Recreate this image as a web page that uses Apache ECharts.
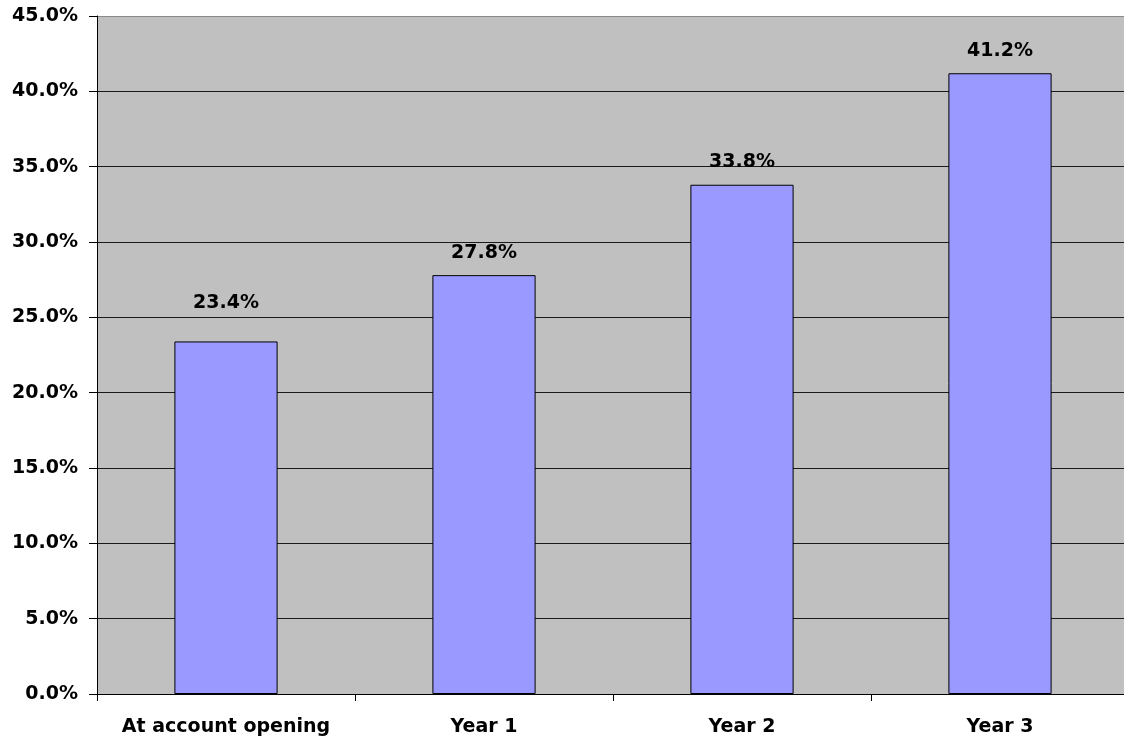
<!DOCTYPE html>
<html>
<head>
<meta charset="utf-8">
<script src="https://cdn.jsdelivr.net/npm/echarts@6/dist/echarts.min.js"></script>
<style>
  html, body { margin: 0; padding: 0; background: #ffffff; overflow: hidden; }
  /* the plot area runs a few pixels past the right edge of the page */
  #chart { width: 1129px; height: 747px; }
</style>
</head>
<body>
<div id="chart"></div>
<script>
// Share of accounts, by time since the account was opened
const categories = ['At account opening', 'Year 1', 'Year 2', 'Year 3'];
const shareValues = [23.4, 27.8, 33.8, 41.2];
const yTicks = [0, 5, 10, 15, 20, 25, 30, 35, 40, 45];

const FONT = '"DejaVu Sans", "Liberation Sans", Arial, sans-serif';

// Gridlines are dark; the top one (45%) is a lighter border line
const gridLineColors = yTicks.map((t, i) => i === yTicks.length - 1 ? '#8a8a8a' : '#1a1a1a');

// The first label sits a little higher, clear of the 25% gridline
const barData = shareValues.map((v, i) => i === 0
  ? { value: v, label: { distance: 29 } }
  : { value: v });

const chart = echarts.init(document.getElementById('chart'), null, { renderer: 'canvas' });

chart.setOption({
  animation: false,
  backgroundColor: '#ffffff',
  grid: {
    left: 97,
    right: 0,
    top: 16,
    bottom: 53,
    show: true,
    backgroundColor: '#c0c0c0',
    borderWidth: 0
  },
  xAxis: {
    type: 'category',
    data: categories,
    boundaryGap: true,
    axisLine: { show: true, lineStyle: { color: '#000000', width: 1 } },
    axisTick: { show: true, alignWithLabel: false, length: 7, lineStyle: { color: '#000000' } },
    axisLabel: {
      interval: 0,
      color: '#000000',
      fontFamily: FONT,
      fontWeight: 'bold',
      fontSize: 19,
      margin: 24
    },
    splitLine: { show: false }
  },
  yAxis: {
    type: 'value',
    min: yTicks[0],
    max: yTicks[yTicks.length - 1],
    interval: 5,
    axisLine: { show: true, lineStyle: { color: '#000000', width: 1 } },
    axisTick: { show: true, length: 8, lineStyle: { color: '#000000' } },
    axisLabel: {
      color: '#000000',
      fontFamily: FONT,
      fontWeight: 'bold',
      fontSize: 19,
      margin: 19,
      formatter: v => v.toFixed(1) + '%'
    },
    splitLine: { show: true, lineStyle: { color: gridLineColors, width: 1 } }
  },
  series: [{
    type: 'bar',
    data: barData,
    barWidth: '40%',
    itemStyle: {
      color: '#9999ff',
      borderColor: '#000000',
      borderWidth: 1
    },
    label: {
      show: true,
      position: 'top',
      distance: 13,
      color: '#000000',
      fontFamily: FONT,
      fontWeight: 'bold',
      fontSize: 19,
      formatter: p => p.value.toFixed(1) + '%'
    }
  }]
});
</script>
</body>
</html>
